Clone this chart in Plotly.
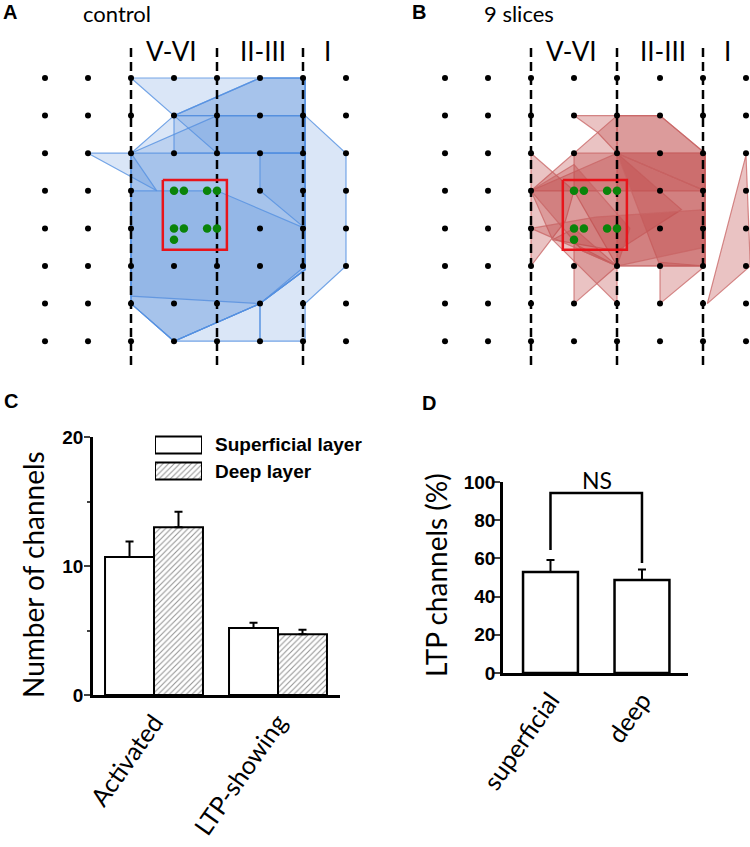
import plotly.graph_objects as go

W, H = 750, 847

# --- panels A/B: electrode grid (column, row), row 0 at top ---
grid_cols = [0, 1, 2, 3, 4, 5, 6, 7]
grid_rows = [0, 1, 2, 3, 4, 5, 6, 7]
layer_bounds = [2, 4, 6]
layer_names = ["V-VI", "II-III", "I"]
layer_name_cols = [2.95, 5.08, 6.58]

stim_cols = [3, 3.23, 3.77, 4, 3, 3.23, 3.77, 4, 3]
stim_rows = [3, 3, 3, 3, 4, 4, 4, 4, 4.3]
stim_box_cols = [2.74, 4.23, 4.23, 2.74, 2.74]
stim_box_rows = [2.71, 2.71, 4.57, 4.57, 2.71]

# activated areas, one polygon per slice (col, row)
control_polys = [
    [(2, 0), (6.05, 0), (6.05, 1), (3, 1)],
    [(3, 1), (5, 0), (6.05, 0), (6.05, 5.1), (5, 6), (3, 7), (2, 6), (2, 2)],
    [(3, 1), (6.05, 1), (6.05, 2), (3, 2)],
    [(2, 2), (4, 1), (6.05, 1), (6.05, 5), (5, 6), (2, 5.8)],
    [(2, 2), (6.05, 2), (6.05, 5.1), (5, 6), (3, 7), (2, 6)],
    [(6.05, 1), (7, 2), (7, 5), (6.05, 6), (6.05, 7), (5, 7), (5, 6), (6.05, 5.1)],
    [(1, 2), (2, 2), (2.6, 3.0)],
    [(2, 3), (4, 3), (6.05, 4), (6.05, 5.1), (5, 6), (3, 7), (2, 6)],
    [(5, 2), (6.05, 2), (6.05, 4), (5, 3)],
    [(3, 1), (5, 0), (6.05, 0), (6.05, 2), (4, 2)],
    [(3, 7), (5, 6), (5, 7)],
]
slices_polys = [
    [(3, 1), (4, 1), (5, 1), (6.05, 2), (6.05, 5), (4, 5), (4, 2), (3.55, 1.45)],
    [(2, 3), (4, 1), (4, 2), (6.05, 2), (6.05, 3)],
    [(4, 1), (5, 1), (6.05, 2), (6.05, 3), (4, 2)],
    [(3, 2), (6.05, 2), (6.05, 5), (4, 5), (3, 3)],
    [(2, 2), (3, 3), (2.8, 3.8), (2, 5)],
    [(2, 3), (4, 2), (5.5, 3.5), (4, 4.6), (2.5, 4.3)],
    [(2, 3), (3, 2.3), (4.3, 4), (4, 5), (3.2, 4.6)],
    [(3, 4.4), (3, 6), (4, 5)],
    [(2.5, 4.3), (4, 6), (4, 5), (3, 4)],
    [(5, 4.9), (5, 6), (6.05, 5)],
    [(7, 2.05), (7.1, 5), (6.1, 6)],
    [(4, 2), (6.05, 3), (6.05, 5), (5, 5)],
    [(2, 4), (3.5, 3.7), (6.05, 3.5), (6.05, 4.5), (4, 5)],
]

# --- panel C ---
groups = ["Activated", "LTP-showing"]
superficial_n = [10.7, 5.2]
superficial_err = [1.2, 0.4]
deep_n = [13.0, 4.7]
deep_err = [1.2, 0.35]

# --- panel D ---
ltp_labels = ["superficial", "deep"]
ltp_pct = [52.9, 48.7]
ltp_err = [6.3, 5.5]
ns_bracket = [64.4, 94.2, 94.2, 57.6]


def px(x):
    return x / W


def py(y):
    return 1 - y / H


fig = go.Figure()


def grid_panel(polys, fill, edge, xa, ya):
    for poly in polys:
        xs = [p[0] for p in poly] + [poly[0][0]]
        ys = [p[1] for p in poly] + [poly[0][1]]
        fig.add_trace(go.Scatter(x=xs, y=ys, mode="lines", fill="toself",
                                 fillcolor=fill, line=dict(color=edge, width=1.2),
                                 xaxis=xa, yaxis=ya, showlegend=False, hoverinfo="skip"))
    bx, by = [], []
    for c in layer_bounds:
        bx += [c, c, None]
        by += [-0.8, 7.7, None]
    fig.add_trace(go.Scatter(x=bx, y=by, mode="lines",
                             line=dict(color="black", width=2.5, dash="9px,5px"),
                             xaxis=xa, yaxis=ya, showlegend=False, hoverinfo="skip"))
    gx = [c for r in grid_rows for c in grid_cols]
    gy = [r for r in grid_rows for c in grid_cols]
    fig.add_trace(go.Scatter(x=gx, y=gy, mode="markers", marker=dict(color="black", size=6),
                             xaxis=xa, yaxis=ya, showlegend=False, hoverinfo="skip"))
    fig.add_trace(go.Scatter(x=stim_box_cols, y=stim_box_rows, mode="lines",
                             line=dict(color="#e8141b", width=2.5),
                             xaxis=xa, yaxis=ya, showlegend=False, hoverinfo="skip"))
    fig.add_trace(go.Scatter(x=stim_cols, y=stim_rows, mode="markers",
                             marker=dict(color="#0a840a", size=8.5),
                             xaxis=xa, yaxis=ya, showlegend=False, hoverinfo="skip"))
    for name, c in zip(layer_names, layer_name_cols):
        fig.add_annotation(x=c, y=-0.72, xref=xa, yref=ya, text=name, showarrow=False,
                           font=dict(family="Lato", size=26, color="black"))


grid_panel(control_polys, "rgba(85,140,218,0.22)", "rgba(85,145,225,0.8)", "x", "y")
grid_panel(slices_polys, "rgba(190,72,72,0.33)", "rgba(200,100,100,0.75)", "x2", "y2")

hatch = dict(shape="/", fgcolor="#222", bgcolor="white", size=4, solidity=0.25)

# panel C bars
fig.add_trace(go.Bar(x=groups, y=superficial_n, offset=-0.395, width=0.395,
                     marker=dict(color="white", line=dict(color="black", width=2)),
                     error_y=dict(type="data", array=superficial_err, arrayminus=[0, 0],
                                  symmetric=False, color="black", thickness=2, width=4),
                     xaxis="x3", yaxis="y3", showlegend=False))
fig.add_trace(go.Bar(x=groups, y=deep_n, offset=0, width=0.395,
                     marker=dict(color="white", line=dict(color="black", width=2), pattern=hatch),
                     error_y=dict(type="data", array=deep_err, arrayminus=[0, 0],
                                  symmetric=False, color="black", thickness=2, width=4),
                     xaxis="x3", yaxis="y3", showlegend=False))

# legend keys for panel C
fig.add_trace(go.Bar(x=[1], y=[0], orientation="h", width=0.65,
                     marker=dict(color="white", line=dict(color="black", width=2)),
                     xaxis="x5", yaxis="y5", showlegend=False, hoverinfo="skip"))
fig.add_trace(go.Bar(x=[1], y=[1], orientation="h", width=0.65,
                     marker=dict(color="white", line=dict(color="black", width=2), pattern=hatch),
                     xaxis="x5", yaxis="y5", showlegend=False, hoverinfo="skip"))

# panel D bars
fig.add_trace(go.Bar(x=ltp_labels, y=ltp_pct, width=0.6,
                     marker=dict(color="white", line=dict(color="black", width=2.5)),
                     error_y=dict(type="data", array=ltp_err, arrayminus=[0, 0],
                                  symmetric=False, color="black", thickness=2, width=4),
                     xaxis="x4", yaxis="y4", showlegend=False))
fig.add_trace(go.Scatter(x=[ltp_labels[0], ltp_labels[0], ltp_labels[1], ltp_labels[1]],
                         y=ns_bracket, mode="lines", line=dict(color="black", width=2.5),
                         xaxis="x4", yaxis="y4", showlegend=False, hoverinfo="skip"))

hidden = dict(visible=False, showgrid=False, zeroline=False)
tickf = dict(family="Liberation Sans", size=19, color="black", weight="bold")
catf = dict(family="Lato", size=25, color="black")

fig.update_layout(
    width=W, height=H, margin=dict(l=0, r=0, t=0, b=0, autoexpand=False),
    paper_bgcolor="white", plot_bgcolor="rgba(0,0,0,0)",
    barmode="overlay", showlegend=False,
    xaxis=dict(hidden, domain=[px(2), px(389)], range=[-1, 8], anchor="y"),
    yaxis=dict(hidden, domain=[py(378.8), py(21.6)], range=[8, -1.5], anchor="x"),
    xaxis2=dict(hidden, domain=[px(402), 1], range=[-1, (750 - 445) / 43], anchor="y2"),
    yaxis2=dict(hidden, domain=[py(378.8), py(21.6)], range=[8, -1.5], anchor="x2"),
    xaxis3=dict(domain=[px(93), px(340)], range=[-0.492, 1.5], anchor="y3", showline=True,
                linecolor="black", linewidth=2.5, ticks="", tickangle=-55,
                tickfont=catf, showgrid=False, zeroline=False),
    yaxis3=dict(domain=[py(695), py(437)], range=[0, 20], anchor="x3", showline=True,
                linecolor="black", linewidth=2.5, ticks="outside", ticklen=6,
                tickwidth=2, tickvals=[0, 10, 20], tickfont=tickf, ticklabelstandoff=-3,
                minor=dict(tickvals=[5, 15], ticks="outside", ticklen=3, tickwidth=2),
                showgrid=False, zeroline=False),
    xaxis4=dict(domain=[px(503), px(688)], range=[-0.519, 1.503], anchor="y4", showline=True,
                linecolor="black", linewidth=2.5, ticks="", tickangle=-55,
                tickfont=catf, showgrid=False, zeroline=False),
    yaxis4=dict(domain=[py(673), py(482)], range=[0, 100], anchor="x4", showline=True,
                linecolor="black", linewidth=2.5, ticks="outside", ticklen=6,
                tickwidth=2, tickvals=[0, 20, 40, 60, 80, 100], tickfont=tickf,
                ticklabelstandoff=-5, showgrid=False, zeroline=False),
    xaxis5=dict(hidden, domain=[px(155), px(202)], range=[0, 1], anchor="y5"),
    yaxis5=dict(hidden, domain=[py(484), py(432)], range=[1.5, -0.5], anchor="x5"),
)

panel_font = dict(family="Liberation Sans", size=20, color="black", weight="bold")
text_font = dict(family="Lato", size=22, color="black")
title_font = dict(family="Lato", size=28, color="black")
notes = [
    ("A", 1, 12, "left", panel_font, 0),
    ("control", 117, 14, "center", text_font, 0),
    ("B", 410, 12, "left", panel_font, 0),
    ("9 slices", 519, 14, "center", text_font, 0),
    ("C", 2, 401, "left", panel_font, 0),
    ("D", 420, 403, "left", panel_font, 0),
    ("Superficial layer", 213, 445, "left", tickf, 0),
    ("Deep layer", 213, 471, "left", tickf, 0),
    ("Number of channels", 33, 575, "center", title_font, -90),
    ("LTP channels (%)", 436, 575, "center", title_font, -90),
    ("NS", 597, 480, "center", dict(family="Lato", size=23, color="black"), 0),
]
for txt, x, y, anchor, font, ang in notes:
    fig.add_annotation(x=px(x), y=py(y), xref="paper", yref="paper", text=txt,
                       showarrow=False, xanchor=anchor, yanchor="middle",
                       font=font, textangle=ang)

fig.write_html("out.html", config={"displayModeBar": False},
               post_script="document.body.style.margin='0px';")
